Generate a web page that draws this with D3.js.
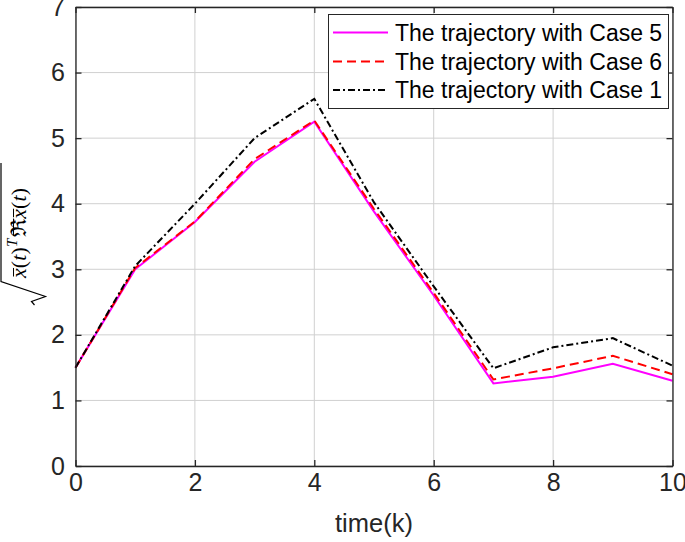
<!DOCTYPE html>
<html>
<head>
<meta charset="utf-8">
<script src="https://cdn.jsdelivr.net/npm/d3@7"></script>
<style>
  html, body { margin: 0; padding: 0; background: #fff; }
  svg { display: block; }
</style>
</head>
<body>
<svg id="chart" width="685" height="542"></svg>
<script>
// ---- data ----
const timeK = [0, 1, 2, 3, 4, 5, 6, 7, 8, 9, 10];
const case5 = [1.5, 3.0, 3.72, 4.64, 5.25, 3.88, 2.60, 1.26, 1.36, 1.56, 1.30];
const case6 = [1.5, 3.02, 3.73, 4.68, 5.27, 3.92, 2.64, 1.32, 1.49, 1.68, 1.40];
const case1 = [1.5, 3.05, 4.0, 5.0, 5.6, 4.02, 2.74, 1.49, 1.81, 1.95, 1.53];
const xTicks = [0, 2, 4, 6, 8, 10];
const yTicks = [0, 1, 2, 3, 4, 5, 6, 7];
const seriesNames = ["The trajectory with Case 5", "The trajectory with Case 6", "The trajectory with Case 1"];
const xLabel = "time(k)";

// ---- layout ----
const L = 75.5, R = 672.5, T = 7, B = 466;
const svg = d3.select("#chart");
const x = d3.scaleLinear().domain([0, 10]).range([L, R]);
const y = d3.scaleLinear().domain([0, 7]).range([B, T]);
const axisColor = "#262626";

// grid
const grid = svg.append("g");
grid.selectAll(".gx").data(xTicks).join("line")
  .attr("x1", d => x(d)).attr("x2", d => x(d)).attr("y1", T).attr("y2", B)
  .attr("stroke", "#d0d0d0").attr("stroke-width", 1);
grid.selectAll(".gy").data(yTicks).join("line")
  .attr("x1", L).attr("x2", R).attr("y1", d => y(d)).attr("y2", d => y(d))
  .attr("stroke", "#d0d0d0").attr("stroke-width", 1);

// series
const line = d3.line().x((d, i) => x(timeK[i])).y(d => y(d));
const styles = [
  { data: case5, color: "#ff00ff", dash: null },
  { data: case6, color: "#ff0000", dash: "9,5" },
  { data: case1, color: "#000000", dash: "7,3,2,3" }
];
styles.forEach(s => {
  svg.append("path").datum(s.data).attr("d", line)
    .attr("fill", "none").attr("stroke", s.color).attr("stroke-width", 2)
    .attr("stroke-dasharray", s.dash).attr("stroke-linejoin", "miter");
});

// axes
const fs = 25;
const fmt = d3.format("d");
const gx = svg.append("g").attr("transform", `translate(0,${B})`)
  .call(d3.axisBottom(x).tickValues(xTicks).tickFormat(fmt).tickSizeInner(-6).tickSizeOuter(0).tickPadding(7));
const gy = svg.append("g").attr("transform", `translate(${L},0)`)
  .call(d3.axisLeft(y).tickValues(yTicks).tickFormat(fmt).tickSizeInner(-6).tickSizeOuter(0).tickPadding(10.5));
const gt = svg.append("g").attr("transform", `translate(0,${T})`)
  .call(d3.axisTop(x).tickValues(xTicks).tickSizeInner(-6).tickSizeOuter(0).tickFormat(""));
const gr = svg.append("g").attr("transform", `translate(${R},0)`)
  .call(d3.axisRight(y).tickValues(yTicks).tickSizeInner(-6).tickSizeOuter(0).tickFormat(""));
[gx, gy, gt, gr].forEach(g => {
  g.select(".domain").attr("stroke", axisColor).attr("stroke-width", 1.3);
  g.selectAll(".tick line").attr("stroke", axisColor).attr("stroke-width", 1.3);
  g.selectAll(".tick text").attr("fill", "#262626")
    .attr("font-family", "Liberation Sans, Arial, sans-serif").attr("font-size", fs);
});

// x label
svg.append("text").attr("x", (L + R) / 2).attr("y", 532).attr("text-anchor", "middle")
  .attr("font-family", "Liberation Sans, Arial, sans-serif").attr("font-size", 25.5)
  .attr("fill", "#262626").text(xLabel);

// y label: sqrt( xbar(t)^T Rebar xbar(t) )
const parts = [
  { s: "x", bar: true, it: true },
  { s: "(", it: false }, { s: "t", it: true }, { s: ")", it: false },
  { s: "T", it: true, sup: true },
  { s: "\u211C", it: false, bar: true },
  { s: "x", bar: true, it: true },
  { s: "(", it: false }, { s: "t", it: true }, { s: ")", it: false }
];
const yl = svg.append("g").attr("transform", "translate(26,281) rotate(-90)");
const lfs = 21.5;
let u = 3;
parts.forEach(p => {
  const size = p.sup ? lfs * 0.7 : lfs;
  const t = yl.append("text").attr("x", u).attr("y", p.sup ? -lfs * 0.42 : 0)
    .attr("font-family", "Liberation Serif, DejaVu Serif, serif")
    .attr("font-style", p.it ? "italic" : "normal")
    .attr("font-size", size).attr("fill", "#000").text(p.s);
  const w = t.node().getComputedTextLength();
  if (p.bar) {
    yl.append("line").attr("x1", u + 1.5).attr("x2", u + w + 0.5)
      .attr("y1", -lfs * 0.58).attr("y2", -lfs * 0.58)
      .attr("stroke", "#000").attr("stroke-width", 1);
  }
  u += w + (p.sup ? 1.5 : 0.3);
});
// radical sign
yl.append("path")
  .attr("d", `M-24,8.5 L-20.5,5.5 L-15.5,19.5 L-0.5,-25 L${Math.max(u + 2, 118)},-25`)
  .attr("fill", "none").attr("stroke", "#000").attr("stroke-width", 1.2);

// legend
const lg = svg.append("g");
lg.append("rect").attr("x", 328.5).attr("y", 14.5).attr("width", 340).attr("height", 94)
  .attr("fill", "#fff").attr("stroke", axisColor).attr("stroke-width", 1);
const rowY = [32.5, 61.5, 90];
styles.forEach((s, i) => {
  lg.append("line").attr("x1", 333).attr("x2", 388).attr("y1", rowY[i]).attr("y2", rowY[i])
    .attr("stroke", s.color).attr("stroke-width", 2).attr("stroke-dasharray", s.dash);
  lg.append("text").attr("x", 395).attr("y", rowY[i]).attr("dy", "0.35em")
    .attr("font-family", "Liberation Sans, Arial, sans-serif").attr("font-size", 23)
    .attr("fill", "#000").text(seriesNames[i]);
});
</script>
</body>
</html>
